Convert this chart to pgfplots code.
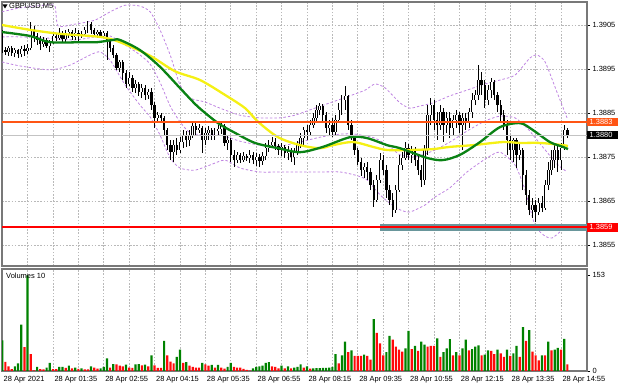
\documentclass[border=0pt]{standalone}
\usepackage{fontspec}
\setmainfont{Liberation Sans}
\usepackage{pgfplots}
\usepackage{pgfplotstable}
\pgfplotsset{compat=1.18}
\definecolor{mtgreen}{RGB}{10,130,20}
\definecolor{mtyellow}{RGB}{245,240,20}
\definecolor{mtorange}{RGB}{255,85,20}
\definecolor{mtred}{RGB}{255,0,0}
\definecolor{bbpurple}{RGB}{190,130,225}
\definecolor{volgreen}{RGB}{0,130,0}
\definecolor{volred}{RGB}{255,10,10}
\definecolor{gridgray}{RGB}{185,185,185}
\definecolor{bandteal}{RGB}{105,150,155}
\definecolor{framegray}{RGB}{120,120,120}
\definecolor{bidgray}{RGB}{195,195,195}
\newcommand\mtfont{\fontsize{7.5}{9}\selectfont}

\pgfplotstableread{
i o h l c
3 1.39032 1.39039 1.38987 1.38993
4 1.38993 1.39000 1.38982 1.38989
5 1.38989 1.39002 1.38980 1.38998
6 1.38998 1.39002 1.38980 1.38987
7 1.38987 1.38998 1.38977 1.38993
8 1.38993 1.38996 1.38975 1.38984
9 1.38984 1.39002 1.38977 1.38996
10 1.38996 1.39005 1.38980 1.38991
11 1.38991 1.39007 1.38984 1.38998
12 1.38998 1.39057 1.38993 1.39039
13 1.39039 1.39048 1.39011 1.39025
14 1.39025 1.39032 1.39005 1.39016
15 1.39016 1.39025 1.38993 1.39007
16 1.39007 1.39023 1.39000 1.39016
17 1.39016 1.39021 1.38998 1.39002
18 1.39002 1.39016 1.38989 1.39011
19 1.39011 1.39034 1.39007 1.39025
20 1.39025 1.39032 1.39014 1.39021
21 1.39021 1.39043 1.39016 1.39030
22 1.39030 1.39037 1.39011 1.39018
23 1.39018 1.39039 1.39011 1.39027
24 1.39027 1.39041 1.39021 1.39034
25 1.39034 1.39039 1.39016 1.39023
26 1.39023 1.39043 1.39016 1.39032
27 1.39032 1.39039 1.39011 1.39025
28 1.39025 1.39037 1.39021 1.39030
29 1.39030 1.39046 1.39025 1.39039
30 1.39039 1.39059 1.39032 1.39052
31 1.39052 1.39057 1.39030 1.39039
32 1.39039 1.39043 1.39023 1.39030
33 1.39030 1.39039 1.39021 1.39034
34 1.39034 1.39039 1.39021 1.39025
35 1.39025 1.39037 1.39021 1.39032
36 1.39032 1.39037 1.38971 1.39016
37 1.39016 1.39021 1.38989 1.38998
38 1.38998 1.39005 1.38975 1.38982
39 1.38982 1.38987 1.38948 1.38952
40 1.38952 1.38971 1.38943 1.38966
41 1.38966 1.38971 1.38925 1.38941
42 1.38941 1.38948 1.38907 1.38916
43 1.38916 1.38943 1.38912 1.38930
44 1.38930 1.38937 1.38898 1.38907
45 1.38907 1.38925 1.38896 1.38916
46 1.38916 1.38921 1.38889 1.38898
47 1.38898 1.38916 1.38884 1.38907
48 1.38907 1.38914 1.38880 1.38891
49 1.38891 1.38905 1.38882 1.38898
50 1.38898 1.38907 1.38857 1.38868
51 1.38868 1.38875 1.38816 1.38839
52 1.38839 1.38852 1.38830 1.38846
53 1.38846 1.38850 1.38830 1.38839
54 1.38839 1.38843 1.38800 1.38812
55 1.38812 1.38816 1.38766 1.38777
56 1.38777 1.38789 1.38743 1.38762
57 1.38762 1.38789 1.38739 1.38777
58 1.38777 1.38793 1.38755 1.38766
59 1.38766 1.38796 1.38759 1.38784
60 1.38784 1.38812 1.38771 1.38798
61 1.38798 1.38809 1.38773 1.38789
62 1.38789 1.38812 1.38775 1.38800
63 1.38800 1.38830 1.38793 1.38821
64 1.38821 1.38830 1.38800 1.38812
65 1.38812 1.38825 1.38805 1.38816
66 1.38816 1.38821 1.38759 1.38789
67 1.38789 1.38816 1.38777 1.38805
68 1.38805 1.38821 1.38789 1.38812
69 1.38812 1.38816 1.38789 1.38798
70 1.38798 1.38816 1.38789 1.38809
71 1.38809 1.38823 1.38798 1.38814
72 1.38814 1.38830 1.38802 1.38821
73 1.38821 1.38825 1.38775 1.38782
74 1.38782 1.38800 1.38766 1.38789
75 1.38789 1.38793 1.38739 1.38755
76 1.38755 1.38766 1.38727 1.38743
77 1.38743 1.38762 1.38737 1.38755
78 1.38755 1.38759 1.38737 1.38743
79 1.38743 1.38762 1.38739 1.38752
80 1.38752 1.38757 1.38741 1.38748
81 1.38748 1.38766 1.38737 1.38755
82 1.38755 1.38762 1.38734 1.38743
83 1.38743 1.38759 1.38730 1.38750
84 1.38750 1.38757 1.38727 1.38741
85 1.38741 1.38762 1.38732 1.38752
86 1.38752 1.38782 1.38743 1.38771
87 1.38771 1.38789 1.38762 1.38777
88 1.38777 1.38796 1.38771 1.38784
89 1.38784 1.38793 1.38766 1.38775
90 1.38775 1.38780 1.38755 1.38766
91 1.38766 1.38782 1.38752 1.38773
92 1.38773 1.38777 1.38748 1.38759
93 1.38759 1.38775 1.38743 1.38766
94 1.38766 1.38771 1.38739 1.38750
95 1.38750 1.38771 1.38732 1.38762
96 1.38762 1.38787 1.38755 1.38777
97 1.38777 1.38805 1.38771 1.38793
98 1.38793 1.38818 1.38777 1.38812
99 1.38812 1.38823 1.38789 1.38807
100 1.38807 1.38834 1.38800 1.38823
101 1.38823 1.38850 1.38816 1.38839
102 1.38839 1.38868 1.38830 1.38857
103 1.38857 1.38873 1.38846 1.38866
104 1.38866 1.38871 1.38830 1.38846
105 1.38846 1.38852 1.38805 1.38816
106 1.38816 1.38834 1.38800 1.38823
107 1.38823 1.38839 1.38796 1.38807
108 1.38807 1.38846 1.38800 1.38834
109 1.38834 1.38873 1.38830 1.38857
110 1.38857 1.38891 1.38846 1.38880
111 1.38880 1.38912 1.38857 1.38889
112 1.38889 1.38891 1.38812 1.38823
113 1.38823 1.38834 1.38789 1.38796
114 1.38796 1.38800 1.38755 1.38766
115 1.38766 1.38771 1.38732 1.38739
116 1.38739 1.38748 1.38707 1.38721
117 1.38721 1.38737 1.38702 1.38727
118 1.38727 1.38739 1.38698 1.38716
119 1.38716 1.38725 1.38675 1.38687
120 1.38687 1.38698 1.38637 1.38653
121 1.38653 1.38709 1.38648 1.38698
122 1.38698 1.38759 1.38691 1.38743
123 1.38743 1.38755 1.38709 1.38721
124 1.38721 1.38732 1.38657 1.38675
125 1.38675 1.38687 1.38641 1.38653
126 1.38653 1.38668 1.38614 1.38630
127 1.38630 1.38687 1.38623 1.38675
128 1.38675 1.38755 1.38671 1.38732
129 1.38732 1.38762 1.38721 1.38748
130 1.38748 1.38784 1.38743 1.38771
131 1.38771 1.38780 1.38743 1.38755
132 1.38755 1.38775 1.38737 1.38766
133 1.38766 1.38773 1.38730 1.38743
134 1.38743 1.38755 1.38709 1.38721
135 1.38721 1.38732 1.38682 1.38698
136 1.38698 1.38777 1.38687 1.38766
137 1.38766 1.38868 1.38755 1.38846
138 1.38846 1.38884 1.38823 1.38868
139 1.38868 1.38880 1.38812 1.38834
140 1.38834 1.38852 1.38789 1.38823
141 1.38823 1.38868 1.38812 1.38852
142 1.38852 1.38862 1.38784 1.38823
143 1.38823 1.38852 1.38805 1.38839
144 1.38839 1.38852 1.38793 1.38816
145 1.38816 1.38846 1.38800 1.38834
146 1.38834 1.38857 1.38816 1.38846
147 1.38846 1.38852 1.38805 1.38823
148 1.38823 1.38850 1.38766 1.38839
149 1.38839 1.38850 1.38812 1.38830
150 1.38830 1.38862 1.38816 1.38852
151 1.38852 1.38896 1.38839 1.38880
152 1.38880 1.38902 1.38868 1.38891
153 1.38891 1.38959 1.38880 1.38925
154 1.38925 1.38943 1.38891 1.38914
155 1.38914 1.38925 1.38862 1.38880
156 1.38880 1.38914 1.38868 1.38902
157 1.38902 1.38930 1.38884 1.38921
158 1.38921 1.38925 1.38880 1.38891
159 1.38891 1.38898 1.38852 1.38868
160 1.38868 1.38880 1.38830 1.38846
161 1.38846 1.38857 1.38812 1.38823
162 1.38823 1.38834 1.38755 1.38789
163 1.38789 1.38800 1.38743 1.38766
164 1.38766 1.38793 1.38739 1.38789
165 1.38789 1.38793 1.38725 1.38755
166 1.38755 1.38782 1.38743 1.38766
167 1.38766 1.38771 1.38675 1.38709
168 1.38709 1.38721 1.38641 1.38664
169 1.38664 1.38675 1.38618 1.38630
170 1.38630 1.38657 1.38611 1.38641
171 1.38641 1.38653 1.38602 1.38625
172 1.38625 1.38657 1.38618 1.38646
173 1.38646 1.38662 1.38625 1.38634
174 1.38634 1.38698 1.38630 1.38687
175 1.38687 1.38739 1.38675 1.38721
176 1.38721 1.38766 1.38709 1.38743
177 1.38743 1.38777 1.38725 1.38766
178 1.38766 1.38775 1.38716 1.38743
179 1.38743 1.38782 1.38721 1.38771
180 1.38771 1.38823 1.38766 1.38812
181 1.38812 1.38816 1.38793 1.38800
}\candles

\pgfplotstableread{
i v g
3 49 1
4 14.5 0
5 7.5 0
6 3 0
7 7.5 1
8 12 1
9 74 1
10 38 0
11 153 1
12 27 0
13 1 0
14 6.5 1
15 3 0
16 2.7 0
17 5.4 1
18 13 1
19 3 0
20 2.8 0
21 6.5 1
22 6.6 1
23 5 0
24 8.6 1
25 4.3 0
26 5.4 1
27 3.2 0
28 4.3 1
29 2.7 0
30 2.5 0
31 7.5 1
32 5.4 0
33 3.8 0
34 4.3 1
35 6.5 1
36 20 1
37 5.4 0
38 11 1
39 10.7 0
40 8.6 0
41 7.5 0
42 10 1
43 5.4 0
44 5.0 0
45 10.7 1
46 11 1
47 9 0
48 10 1
49 7.5 0
50 25 1
51 9 0
52 5 0
53 4.8 0
54 48 1
55 25 0
56 15 0
57 12 0
58 22.5 1
59 34 1
60 13 0
61 14 1
62 8.6 0
63 6.5 0
64 5.4 0
65 5.3 0
66 13 1
67 10.7 0
68 8.6 0
69 9.7 1
70 5.4 0
71 9.7 1
72 5.4 0
73 3.8 0
74 6.5 1
75 13 1
76 6.5 0
77 5.4 0
78 5.3 0
79 3.2 0
80 1.6 0
81 0.5 0
82 4.3 1
83 6.5 1
84 7.5 1
85 8.6 1
86 13 1
87 14 1
88 7.5 0
89 6.5 0
90 4.3 0
91 8.6 1
92 4.3 0
93 7.5 1
94 4.3 0
95 5.4 1
96 6.5 1
97 10.7 1
98 5.4 0
99 7.5 1
100 3.8 0
101 4.3 1
102 4.5 1
103 4.7 1
104 4.9 1
105 5.1 1
106 5.4 1
107 6.5 1
108 27 1
109 12 0
110 25 1
111 47 1
112 30 0
113 33 1
114 24 0
115 24 0
116 24 0
117 26 1
118 24 0
119 18 0
120 83 1
121 61 0
122 44 0
123 25 0
124 30 1
125 56 1
126 50 0
127 39 0
128 34 0
129 31 0
130 36 1
131 64 1
132 35 0
133 40 1
134 32 0
135 47 1
136 42 1
137 39 0
138 40 0
139 40 0
140 52 1
141 22.5 0
142 30 1
143 36 1
144 51 1
145 25 0
146 30 1
147 25 0
148 36 1
149 50 1
150 33 0
151 35 1
152 39 1
153 41 1
154 25 0
155 26 1
156 33 1
157 32 0
158 27 0
159 34 1
160 28 0
161 22.5 0
162 34 1
163 24 0
164 28 1
165 40 1
166 22.5 0
167 70 1
168 48 0
169 65.5 1
170 31 0
171 25 0
172 17 0
173 25 1
174 25 0
175 47 1
176 33 0
177 34 1
178 37 1
179 34 0
180 51.5 1
181 10.7 0
}\volumes

\begin{document}
\begin{tikzpicture}
% ---------------- price pane ----------------
\begin{axis}[
  at={(2bp,122bp)}, anchor=south west,
  scale only axis, width=585bp, height=264bp,
  xmin=2.94, xmax=187.19, ymin=1.385023, ymax=1.391023,
  clip mode=individual,
  axis line style={draw=framegray, line width=1.1bp},
  xtick={3,11,...,187}, xticklabels={}, xtick style={draw=none},
  ytick={1.3855,1.3865,1.3875,1.3885,1.3895,1.3905},
  yticklabels={1.3855,1.3865,1.3875,1.3885,1.3895,1.3905},
  scaled y ticks=false,
  ytick pos=right, yticklabel pos=right,
  tick align=outside, major tick length=3bp,
  ytick style={black, line width=0.6bp},
  yticklabel style={font=\mtfont, anchor=west, xshift=-1bp},
  xmajorgrids, ymajorgrids,
  major grid style={gridgray, dash pattern=on 1.6bp off 1.6bp, line width=0.6bp},
]
% Bollinger bands: upper, middle, lower
\addplot[draw=bbpurple, line width=0.8bp, dash pattern=on 2.5bp off 2bp, smooth, tension=0.4, forget plot] coordinates {
(2.94,1.39080) (8.6,1.39089) (16.5,1.39095) (19.6,1.39093) (20.6,1.39048) (25.9,1.39052)
(32.2,1.39061) (37.0,1.39080) (41.7,1.39095) (46.4,1.39093) (49.6,1.39080) (52.7,1.39039)
(55.9,1.38982) (59.0,1.38914) (62.2,1.38884) (66.9,1.38875) (71.6,1.38861) (77.9,1.38845)
(84.2,1.38839) (90.5,1.38839) (95.2,1.38845) (99.9,1.38857) (106.2,1.38873) (112.5,1.38889)
(117.3,1.38902) (120.4,1.38916) (123.6,1.38907) (128.3,1.38873) (131.4,1.38861) (134.6,1.38866)
(138.7,1.38873) (144.0,1.38889) (149.4,1.38902) (155.1,1.38916) (159.8,1.38925) (164.5,1.38936)
(169.2,1.38975) (171.4,1.38982) (174.0,1.38966) (177.7,1.38898) (180.9,1.38839)};
\addplot[draw=bbpurple, line width=0.8bp, dash pattern=on 2.5bp off 2bp, smooth, tension=0.4, forget plot] coordinates {
(2.94,1.39023) (8.6,1.39023) (18.1,1.39020) (25.9,1.39016) (32.2,1.39023) (37.0,1.39025)
(41.7,1.39005) (46.4,1.38982) (49.6,1.38961) (52.7,1.38920) (55.9,1.38866) (59.0,1.38830)
(62.2,1.38805) (66.9,1.38800) (71.6,1.38800) (77.9,1.38786) (84.2,1.38777) (90.5,1.38775)
(96.8,1.38784) (103.1,1.38795) (109.4,1.38802) (114.1,1.38802) (120.4,1.38793) (125.1,1.38773)
(128.3,1.38755) (133.0,1.38750) (138.7,1.38764) (144.0,1.38784) (149.4,1.38809) (155.1,1.38832)
(159.8,1.38843) (164.5,1.38839) (168.3,1.38816) (171.4,1.38789) (174.6,1.38761) (177.7,1.38734)
(180.9,1.38716)};
\addplot[draw=bbpurple, line width=0.8bp, dash pattern=on 2.5bp off 2bp, smooth, tension=0.4, forget plot] coordinates {
(2.94,1.38966) (8.6,1.38957) (18.1,1.38948) (24.4,1.38959) (30.7,1.38982) (33.8,1.38989)
(37.0,1.38970) (41.7,1.38914) (46.4,1.38868) (49.6,1.38841) (52.7,1.38800) (55.9,1.38748)
(59.0,1.38725) (63.7,1.38720) (68.5,1.38732) (73.2,1.38743) (77.9,1.38725) (84.2,1.38716)
(90.5,1.38716) (96.8,1.38716) (103.1,1.38716) (109.4,1.38716) (114.1,1.38709) (117.9,1.38698)
(122.0,1.38664) (125.1,1.38645) (128.3,1.38630) (131.4,1.38625) (136.2,1.38641) (139.3,1.38659)
(144.0,1.38680) (149.4,1.38716) (155.7,1.38748) (159.8,1.38761) (164.5,1.38732) (167.7,1.38675)
(170.8,1.38595) (174.0,1.38570) (176.2,1.38566) (178.7,1.38580) (180.9,1.38593)};
% candle wicks
\addplot[draw=none, mark=none, forget plot,
  error bars/.cd, y dir=plus, y explicit, error mark=none,
  error bar style={draw=black, line width=0.85bp}]
  table[x=i, y=l, y error expr=\thisrow{h}-\thisrow{l}] {\candles};
% bearish bodies
\addplot[draw=none, mark=none, forget plot,
  restrict expr to domain={\thisrow{c}-\thisrow{o}}{-1:0},
  error bars/.cd, y dir=plus, y explicit, error mark=none,
  error bar style={draw=black, line width=2.3bp}]
  table[x=i, y=c, y error expr=\thisrow{o}-\thisrow{c}] {\candles};
% bullish bodies
\addplot[draw=none, mark=none, forget plot,
  restrict expr to domain={\thisrow{c}-\thisrow{o}}{0:1},
  error bars/.cd, y dir=plus, y explicit, error mark=none,
  error bar style={draw=black, line width=2.4bp}]
  table[x=i, y=o, y error expr=\thisrow{c}-\thisrow{o}] {\candles};
\addplot[draw=none, mark=none, forget plot,
  restrict expr to domain={\thisrow{c}-\thisrow{o}}{0:1},
  error bars/.cd, y dir=plus, y explicit, error mark=none,
  error bar style={draw=white, line width=0.8bp}]
  table[x=i, y=o, y error expr=\thisrow{c}-\thisrow{o}] {\candles};
% moving averages
\addplot[draw=mtyellow, line width=2.3bp, smooth, tension=0.5, forget plot] coordinates {
(2.94,1.39050) (11.8,1.39039) (21.2,1.39030) (33.8,1.39023) (40.1,1.39011) (49.6,1.38980)
(57.4,1.38945) (65.3,1.38925) (73.2,1.38891) (79.5,1.38861) (83.6,1.38830) (89.9,1.38795)
(96.8,1.38777) (103.1,1.38770) (107.2,1.38777) (113.5,1.38784) (119.8,1.38773) (124.2,1.38766)
(131.4,1.38766) (138.7,1.38768) (144.0,1.38773) (151.3,1.38777) (160.7,1.38784) (166.1,1.38782)
(172.4,1.38782) (179.6,1.38777) (181.2,1.38775)};
\addplot[draw=mtgreen, line width=2.3bp, smooth, tension=0.5, forget plot] coordinates {
(2.94,1.39034) (11.8,1.39025) (18.1,1.39011) (28.4,1.39011) (32.9,1.39011) (37.9,1.39016)
(40.1,1.39016) (46.4,1.38993) (52.7,1.38955) (59.6,1.38902) (64.7,1.38864) (71.0,1.38827)
(76.3,1.38805) (82.6,1.38782) (89.9,1.38770) (96.8,1.38761) (104.0,1.38773) (112.5,1.38795)
(117.9,1.38793) (124.2,1.38777) (128.3,1.38770) (136.8,1.38748) (141.8,1.38743) (147.2,1.38755)
(153.5,1.38784) (159.8,1.38818) (166.1,1.38827) (170.2,1.38811) (175.5,1.38784) (179.6,1.38773)
(181.2,1.38768)};
% horizontal levels (objects on top)
\addplot[draw=bidgray, line width=1bp, forget plot] coordinates {(2.94,1.3880) (187.19,1.3880)};
\addplot[draw=mtorange, line width=1.5bp, forget plot] coordinates {(2.94,1.3883) (187.19,1.3883)};
\addplot[draw=bandteal, line width=6.5bp, forget plot] coordinates {(122,1.3859) (187.19,1.3859)};
\addplot[draw=mtred, line width=2bp, forget plot] coordinates {(2.94,1.3859) (187.19,1.3859)};
% price labels on the scale
\node[fill=mtorange, text=white, font=\mtfont, anchor=west, inner xsep=2.5bp, inner ysep=1.5bp, text width=26bp] at (axis cs:187.19,1.3883) {1.3883};
\node[fill=black, text=white, font=\mtfont, anchor=west, inner xsep=2.5bp, inner ysep=1.5bp, text width=26bp] at (axis cs:187.19,1.3880) {1.3880};
\node[fill=mtred, text=white, font=\mtfont, anchor=west, inner xsep=2.5bp, inner ysep=1.5bp, text width=26bp] at (axis cs:187.19,1.3859) {1.3859};
\end{axis}

% ---------------- volume pane ----------------
\begin{axis}[
  at={(2bp,17bp)}, anchor=south west,
  scale only axis, width=585bp, height=102bp,
  xmin=2.94, xmax=187.19, ymin=0, ymax=163,
  axis line style={draw=framegray, line width=1.1bp},
  xtick={3,11,...,187},
  xticklabels={28 Apr 2021,,28 Apr 01:35,,28 Apr 02:55,,28 Apr 04:15,,28 Apr 05:35,,28 Apr 06:55,,28 Apr 08:15,,28 Apr 09:35,,28 Apr 10:55,,28 Apr 12:15,,28 Apr 13:35,,28 Apr 14:55,},
  xtick style={draw=none},
  xticklabel style={font=\mtfont, anchor=north west, xshift=-2bp, yshift=1bp},
  ytick={0,153}, yticklabels={0,153},
  ytick pos=right, yticklabel pos=right,
  tick align=outside, major tick length=3bp,
  ytick style={black, line width=0.6bp},
  yticklabel style={font=\mtfont, anchor=west, xshift=-1bp},
  xmajorgrids,
  major grid style={gridgray, dash pattern=on 1.6bp off 1.6bp, line width=0.6bp},
]
\addplot[ybar, bar width=2.2bp, bar shift=0pt, fill=volgreen, draw=none,
  restrict expr to domain={\thisrow{g}}{0.5:1.5}] table[x=i, y=v] {\volumes};
\addplot[ybar, bar width=2.2bp, bar shift=0pt, fill=volred, draw=none,
  restrict expr to domain={\thisrow{g}}{-0.5:0.5}] table[x=i, y=v] {\volumes};
\end{axis}

% titles
\fill[black] (2.5bp,383.5bp) -- (7.5bp,383.5bp) -- (5bp,379.5bp) -- cycle;
\node[anchor=west, font=\mtfont, inner sep=0pt] at (9bp,381.5bp) {GBPUSD,M5};
\node[anchor=west, font=\mtfont, inner sep=0pt] at (6bp,112bp) {Volumes 10};

\pgfresetboundingbox
\path[use as bounding box] (0,0) rectangle (620bp,388bp);
\end{tikzpicture}
\end{document}
